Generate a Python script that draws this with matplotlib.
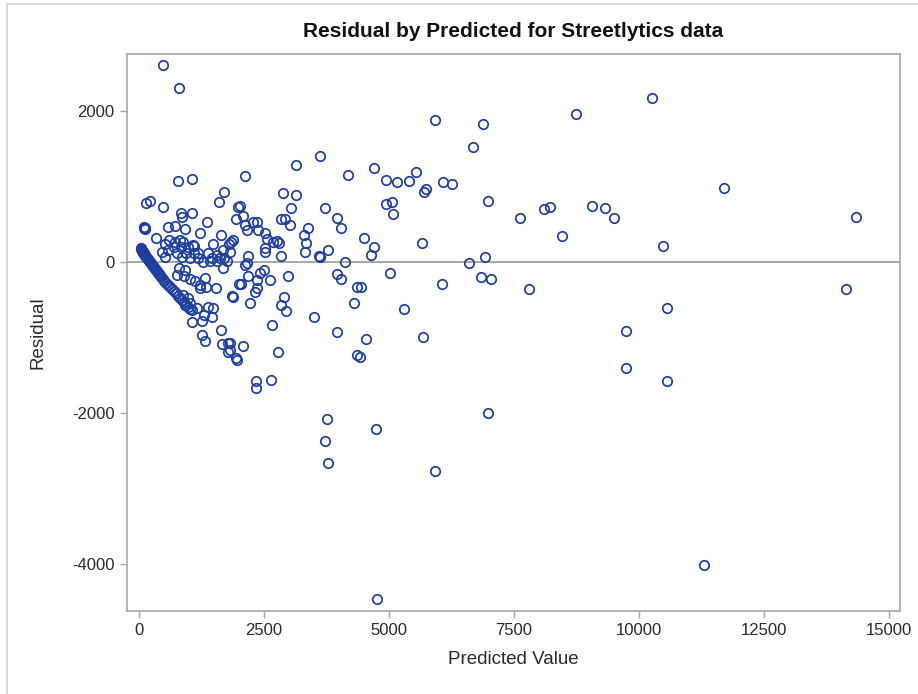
import matplotlib
matplotlib.use("Agg")
import matplotlib.pyplot as plt
from matplotlib.lines import Line2D

plt.rcParams["font.family"] = ["Liberation Sans", "DejaVu Sans"]
plt.rcParams["axes.unicode_minus"] = False

# === Data ===
# dense band near the origin
band_pred = [40, 50, 60, 70, 80, 90, 100, 110, 120, 130, 140, 160, 180, 200, 220, 240,
             260, 280, 300, 320, 340, 361, 381, 400, 421, 441, 481, 501, 541, 581,
             621, 661, 701, 741, 781, 821, 861, 901, 941, 981, 1022,
             100, 107, 115, 120, 134, 220]
band_resid = [186, 175, 159, 150, 132, 125, 119, 105, 93, 80, 66, 55, 40, 13, 0, -13,
              -40, -50, -66, -93, -100, -119, -146, -160, -172, -199, -225, -252, -278, -305,
              -331, -358, -384, -411, -450, -477, -504, -530, -570, -596, -623,
              460, 446, 455, 433, 786, 808]

# low predictions, below ~2000
low_pred = [487, 801, 775, 1056, 487, 1709, 1608, 835, 1056, 867, 1356, 575, 721, 927, 1222,
            334, 1643, 1488, 1843, 1796, 607, 721, 821, 888, 515, 701, 835, 987, 1102,
            455, 587, 755, 941, 1102, 1188, 1376, 1556, 1689, 1823, 1469, 1703,
            521, 855, 1022, 1188, 1276, 1422, 1569, 1676, 1756, 1623,
            807, 921, 755, 901, 1022, 1128, 1222, 1329, 1342, 1222,
            1542, 1857, 2010, 888, 988, 921, 1022, 1056, 1156,
            1389, 1488, 1456, 1302, 1056, 1256, 1636, 1256, 1322,
            1656, 1776, 1776, 1943, 1088, 1977, 1943]
low_resid = [2609, 2300, 1077, 1096, 733, 928, 795, 645, 645, 600, 530, 468, 477, 432, 388,
             314, 358, 234, 269, 234, 291, 269, 291, 269, 234, 203, 203, 203, 212,
             137, 159, 115, 124, 115, 124, 115, 93, 159, 137, 49, 49,
             70, 70, 49, 57, -4, 13, 13, -84, 13, 49,
             -84, -106, -172, -182, -225, -252, -305, -216, -327, -349,
             -349, -447, -296, -437, -481, -570, -548, -636, -614,
             -592, -614, -725, -702, -791, -782, -901, -967, -1047,
             -1091, -1077, -1188, -1267, 225, 733, 566]

# middle predictions, 2000 - 7000
mid_pred = [2129, 2884, 3145, 3031, 2023, 2077, 2123, 2157, 2277, 2357, 2390,
            2838, 2924, 3011, 2530, 2558, 2690, 2758, 2798, 2524, 2524,
            1889, 2189, 2850, 3599,
            2157, 2123, 2504, 2424, 2177, 2370, 2624, 2971, 2043, 2357, 2323, 1889,
            2223, 2910, 2838, 2944, 3491, 2658, 2090, 2771, 1957, 1823, 1823,
            2344, 2337, 2644,
            3145, 3612, 4186, 4701, 4934, 5162, 5394, 5542, 5703, 5749, 6083, 6269,
            6984, 5915, 6890, 6690,
            4934, 5054, 5082, 3720, 3952, 4040,
            3371, 3291, 3345, 3319, 3786, 3612, 4126, 4501, 4701, 4641, 5662, 6610, 6930,
            3952, 4040, 5022, 4361, 4441, 6063, 6836, 7044,
            4300, 5308, 3952, 4533, 5689, 4361, 4427,
            3752, 3720, 3779, 4733, 5915, 6984, 4757]
mid_resid = [1136, 910, 888, 716, 742, 610, 490, 424, 534, 534, 424,
             566, 566, 490, 380, 301, 269, 282, 248, 182, 137,
             291, 80, 80, 80,
             -17, -40, -106, -150, -186, -239, -239, -186, -296, -349, -402, -459,
             -548, -468, -570, -645, -733, -835, -1113, -1188, -1298, -1077, -1166,
             -1573, -1674, -1564,
             1290, 1405, 1153, 1250, 1082, 1060, 1077, 1196, 923, 967, 1060, 1037,
             812, 1877, 1829, 1520,
             772, 799, 640, 720, 583, 446,
             455, 358, 256, 137, 159, 70, 4, 318, 203, 89, 256, -9, 70,
             -159, -225, -141, -335, -335, -296, -199, -221,
             -548, -623, -928, -1024, -989, -1237, -1254,
             -2076, -2367, -2668, -2213, -2765, -2005, -4470]

# high predictions, above 7000
high_pred = [7617, 7792, 8098, 8212, 8453, 8747, 9053, 9314, 9494, 9735, 9735,
             10255, 10482, 10570, 10570, 11291, 11691, 14148, 14348]
high_resid = [583, -358, 698, 733, 348, 1961, 742, 715, 583, -914, -1409,
              2169, 216, -614, -1581, -4015, 985, -353, 600]

pred = band_pred + low_pred + mid_pred + high_pred
resid = band_resid + low_resid + mid_resid + high_resid

# === Plot ===
fig = plt.figure(figsize=(9.18, 6.94), dpi=100)
ax = fig.add_axes([0.1383, 0.1196, 0.8421, 0.8026])

ax.axhline(0, color="#a0a0a0", linewidth=1.3, zorder=1)
ax.plot(pred, resid, linestyle="none", marker="o", markersize=6.8,
        markerfacecolor="none", markeredgecolor="#1f3f9f", markeredgewidth=1.25, zorder=2)

ax.set_xlim(-240, 15220)
ax.set_ylim(-4625, 2757)
ax.set_xticks([0, 2500, 5000, 7500, 10000, 12500, 15000])
ax.set_yticks([-4000, -2000, 0, 2000])

for s in ax.spines.values():
    s.set_color("#a8a8a8")
    s.set_linewidth(1.2)
ax.tick_params(direction="out", length=5, width=1, color="#a8a8a8",
               labelsize=12, labelcolor="#2a2a2a", pad=4)

ax.set_xlabel("Predicted Value", fontsize=13.5, color="#2a2a2a", labelpad=9)
ax.set_ylabel("Residual", fontsize=13.5, color="#2a2a2a", labelpad=18)
ax.set_title("Residual by Predicted for Streetlytics data", fontsize=15,
             fontweight="bold", color="#111111", pad=12)

# light frame around the whole graph
fig.add_artist(Line2D([7 / 918, 7 / 918], [0, 1 - 4 / 694], color="#d4d4d4", linewidth=1.2))
fig.add_artist(Line2D([7 / 918, 1], [1 - 4 / 694, 1 - 4 / 694], color="#d4d4d4", linewidth=1.2))

fig.savefig("out.png", dpi=100)
print("✅ Chart saved to out.png")
